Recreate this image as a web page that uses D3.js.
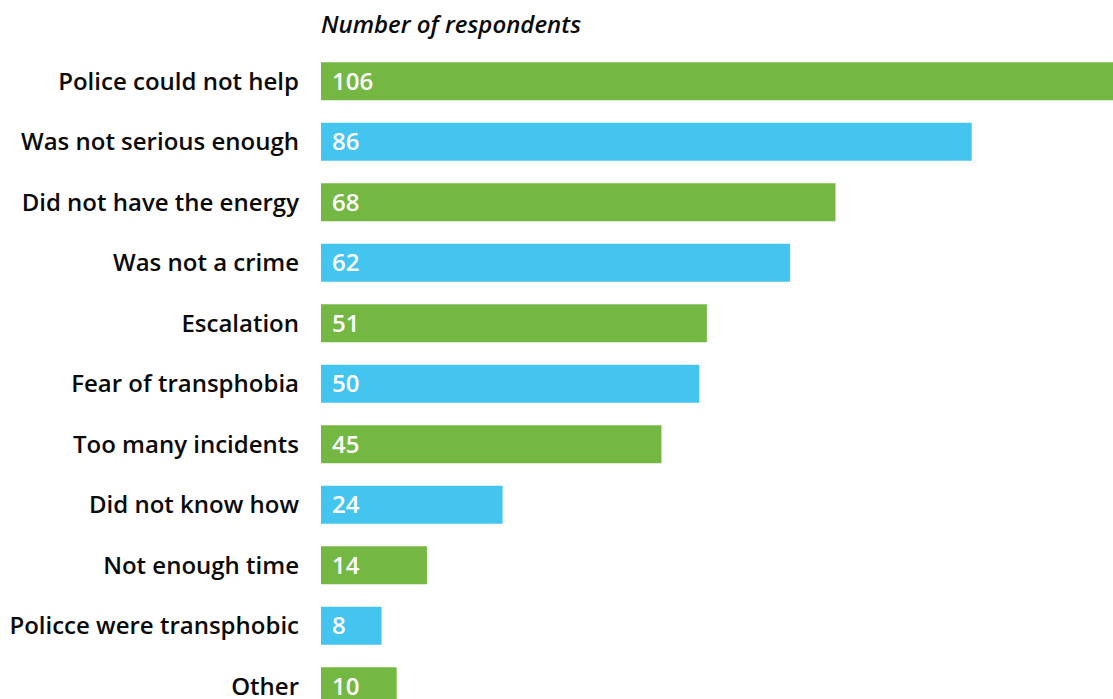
<!DOCTYPE html>
<html>
<head>
<meta charset="utf-8">
<script src="https://cdn.jsdelivr.net/npm/d3@7/dist/d3.min.js"></script>
<style>
  html, body { margin: 0; padding: 0; background: #fff; overflow: hidden; }
  svg { display: block; font-family: "Open Sans", sans-serif; }
</style>
</head>
<body>
<svg id="chart" width="1113" height="699"></svg>
<script>
// Reasons given for not reporting to the police
const categories = [
  "Police could not help",
  "Was not serious enough",
  "Did not have the energy",
  "Was not a crime",
  "Escalation",
  "Fear of transphobia",
  "Too many incidents",
  "Did not know how",
  "Not enough time",
  "Policce were transphobic",
  "Other"
];
const values = [106, 86, 68, 62, 51, 50, 45, 24, 14, 8, 10];
const axisTitle = "Number of respondents";
const palette = ["#74b843", "#43c5f0"];

const svg = d3.select("#chart");
const left = 321;

const x = d3.scaleLinear().domain([0, 106]).range([0, 802]);
const y = d3.scaleBand()
  .domain(categories)
  .range([51, 51 + 60.5 * categories.length])
  .paddingInner(0.372)
  .paddingOuter(0.186);

const data = categories.map((c, i) => ({ c, v: values[i], i }));

svg.append("text")
  .attr("x", left)
  .attr("y", 33)
  .attr("font-size", 24)
  .attr("font-style", "italic")
  .attr("font-weight", 600)
  .attr("fill", "#0a0a0a")
  .text(axisTitle);

const g = svg.append("g").attr("transform", `translate(${left},0)`);

g.selectAll("rect.bar")
  .data(data)
  .join("rect")
  .attr("class", "bar")
  .attr("x", 0)
  .attr("y", d => y(d.c))
  .attr("width", d => x(d.v))
  .attr("height", y.bandwidth())
  .attr("fill", d => palette[d.i % 2]);

g.selectAll("text.val")
  .data(data)
  .join("text")
  .attr("class", "val")
  .attr("x", 11)
  .attr("y", d => y(d.c) + y.bandwidth() / 2)
  .attr("dy", "0.36em")
  .attr("font-size", 24)
  .attr("font-weight", 600)
  .attr("fill", "#fff")
  .text(d => d.v);

// Category axis on the left, no domain line or ticks
const axis = d3.axisLeft(y).tickSize(0).tickPadding(22);
const ax = svg.append("g").attr("transform", `translate(${left},0)`).call(axis);
ax.select(".domain").remove();
ax.selectAll("text")
  .attr("font-family", "Open Sans, sans-serif")
  .attr("font-size", 24)
  .attr("font-weight", 600)
  .attr("fill", "#0a0a0a")
  .attr("dy", "0.36em");
</script>
</body>
</html>
